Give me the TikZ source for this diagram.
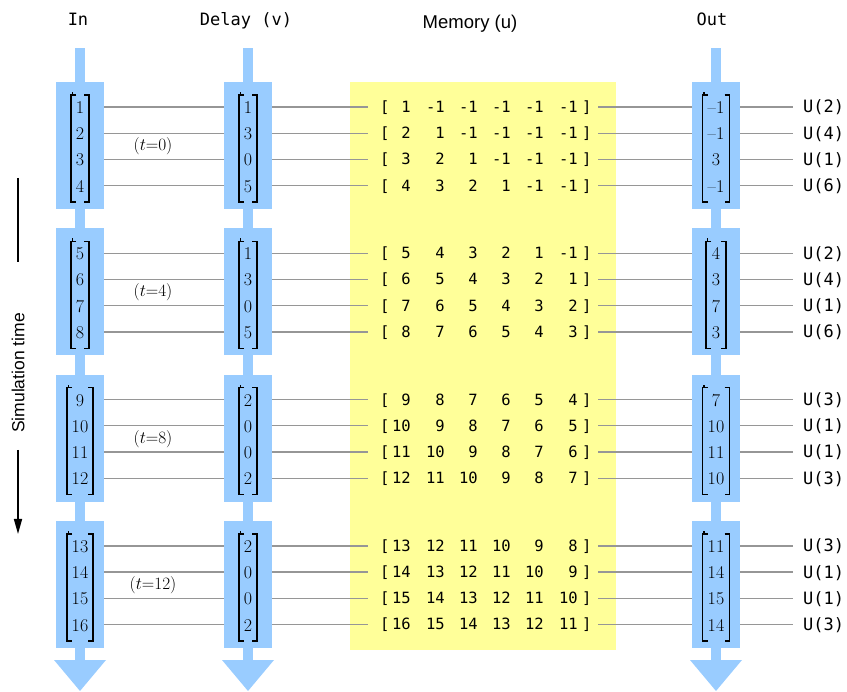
\documentclass[tikz,border=0pt]{standalone}
\usepackage{fontspec}
\usepackage{graphicx}
\newfontfamily\monofont{DejaVu Sans Mono}
\newfontfamily\labsans{Liberation Sans}
\usetikzlibrary{arrows.meta}
\definecolor{barblue}{RGB}{153,204,255}
\definecolor{memyellow}{RGB}{255,255,153}
\definecolor{wiregray}{RGB}{150,150,150}
\tikzset{
  stembar/.style={fill=barblue,draw=none},
  blockbox/.style={fill=barblue,draw=none,minimum width=48,minimum height=127,inner sep=0,anchor=north},
  membox/.style={fill=memyellow,draw=none,minimum width=266,minimum height=568,inner sep=0,anchor=north west},
  wire/.style={draw=wiregray,line width=1.3pt},
  brk/.style={draw=black,line width=1.3pt},
  vecnum/.style={font=\fontsize{18}{18}\selectfont,anchor=base,inner sep=0},
  memtxt/.style={font=\monofont\fontsize{15.5}{16}\selectfont,inner sep=0},
  hdr/.style={font=\monofont\fontsize{17}{18}\selectfont,anchor=base,inner sep=0},
  ulab/.style={font=\monofont\fontsize{17}{18}\selectfont,anchor=base west,inner sep=0},
  tlab/.style={font=\fontsize{17}{17}\selectfont,inner sep=0},
}
\begin{document}
\begin{tikzpicture}[x=1pt,y=-1pt]
\useasboundingbox (0,0) rectangle (847,692);

% memory background
\node[membox] (mem) at (350,82) {};

% headers
\node[hdr] (hin) at (78,26) {In};
\node[hdr] (hdl) at (246,26) {Delay (v)};
\node[font=\labsans\fontsize{18.5}{19}\selectfont,anchor=base,inner sep=0] (hmem) at (470,29) {Memory (u)};
\node[hdr] (hout) at (712,26) {Out};

% stems and arrowheads
\foreach \c/\nm in {80/in,248/dl,716/out}{
  \fill[stembar] (\c-5,48) rectangle (\c+5,662);
  \fill[stembar] (\c-26,660) -- (\c+26,660) -- (\c,691) -- cycle;
  \foreach \k in {0,1,2,3}{
    \pgfmathsetmacro{\T}{82+146.3*\k}
    \node[blockbox] (\nm-\k) at (\c,\T) {};
  }
}

% simulation time
\node[font=\labsans\fontsize{17.5}{18}\selectfont,rotate=90,inner sep=0] (simt) at (18,373) {Simulation time};
\coordinate (st1) at (18,178);
\coordinate (st2) at (18,262);
\coordinate (st3) at (18,450);
\coordinate (st4) at (18,534);
\draw[line width=1.5pt] (st1) -- (st2);
\draw[line width=1.5pt,-{Triangle[length=15pt,width=8pt]}] (st3) -- (st4);

% rows
\foreach \inv/\dlv/\outv/\uv/\hi/\ho/\tl [count=\kk from 0] in {
  {1,2,3,4}/{1,3,0,5}/{\textendash1,\textendash1,3,\textendash1}/{2,4,1,6}/9/13.5/0,
  {5,6,7,8}/{1,3,0,5}/{4,3,7,3}/{2,4,1,6}/9/10/4,
  {9,10,11,12}/{2,0,0,2}/{7,10,11,10}/{3,1,1,3}/13/13.5/8,
  {13,14,15,16}/{2,0,0,2}/{11,14,15,14}/{3,1,1,3}/13/13.5/12}{
  \pgfmathsetmacro{\T}{82+146.3*\kk}
  % brackets
  \pgfmathsetmacro{\bt}{\T+13}
  \pgfmathsetmacro{\bb}{\T+120}
  \foreach \c/\h in {80/\hi,248/9,716/\ho}{
    \draw[brk] (\c-\h+5,\bt) -- (\c-\h,\bt) -- (\c-\h,\bb) -- (\c-\h+5,\bb);
    \draw[brk] (\c-\h+1.5,\bt) -- (\c-\h+1.5,\bt-3);
    \draw[brk] (\c+\h-5,\bt) -- (\c+\h,\bt) -- (\c+\h,\bb) -- (\c+\h-5,\bb);
  }
  % time label
  \pgfmathsetmacro{\ty}{\T+25+26.2*1.5}
  \node[tlab] (tl-\kk) at (153,\ty) {$(t{=}\tl)$};
  \foreach \i in {0,1,2,3}{
    \pgfmathsetmacro{\y}{\T+25+26.2*\i}
    \pgfmathsetmacro{\yb}{\y+6.5}
    \pgfmathsetmacro{\ymb}{\y+5.5}
    \coordinate (r-\kk-\i) at (0,\y);
    \coordinate (ml-\kk-\i) at (368,\y);
    \coordinate (mr-\kk-\i) at (598,\y);
    \coordinate (ue-\kk-\i) at (793,\y);
    \draw[wire] (in-\kk.east |- r-\kk-\i) -- (dl-\kk.west |- r-\kk-\i);
    \draw[wire] (dl-\kk.east |- r-\kk-\i) -- (ml-\kk-\i);
    \draw[wire] (mr-\kk-\i) -- (out-\kk.west |- r-\kk-\i);
    \draw[wire] (out-\kk.east |- r-\kk-\i) -- (ue-\kk-\i);
    % vector entries
    \foreach \v [count=\j from 0] in \inv { \ifnum\j=\i \node[vecnum] (vin-\kk-\i) at (80,\yb) {\v}; \fi }
    \foreach \v [count=\j from 0] in \dlv { \ifnum\j=\i \node[vecnum] (vdl-\kk-\i) at (248,\yb) {\v}; \fi }
    \foreach \v [count=\j from 0] in \outv { \ifnum\j=\i \node[vecnum] (vout-\kk-\i) at (716,\yb) {\v}; \fi }
    \foreach \v [count=\j from 0] in \uv { \ifnum\j=\i \node[ulab] (u-\kk-\i) at (803,\y+6) {U(\v)}; \fi }
    % memory row
    \pgfmathtruncatemacro{\n}{4*\kk+\i+1}
    \node[memtxt,anchor=base west] (mlb-\kk-\i) at (380,\ymb) {[};
    \node[memtxt,anchor=base west] (mrb-\kk-\i) at (582,\ymb) {]};
    \foreach \xr [count=\jj from 0] in {411,445,478,511,544,578}{
      \pgfmathtruncatemacro{\val}{\n-\jj}
      \ifnum\val<1 \def\val{-1}\fi
      \node[memtxt,anchor=base east] (m-\kk-\i-\jj) at (\xr,\ymb) {\val};
    }
  }
}
\end{tikzpicture}
\end{document}
